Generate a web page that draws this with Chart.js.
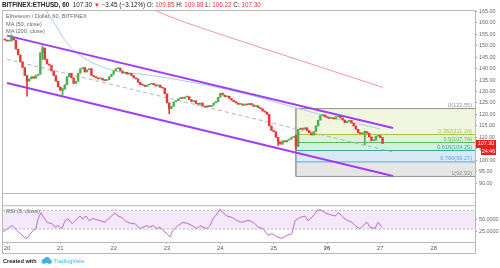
<!DOCTYPE html>
<html>
<head>
<meta charset="utf-8">
<script src="https://cdn.jsdelivr.net/npm/chart.js@4.4.1/dist/chart.umd.min.js"></script>
<style>
  html, body { margin: 0; padding: 0; background: #fff; }
  #wrap { position: relative; width: 500px; height: 268px; overflow: hidden; background: #fff; font-family: 'Liberation Sans', Arial, sans-serif; }
  #wrap canvas { position: absolute; left: 0; }
  .txt { position: absolute; white-space: nowrap; }
  .hdr { left: 2px; top: 0px; font-size: 6.3px; line-height: 9px; color: #222; }
  .red { color: #e53935; }
  .leg { left: 6px; font-size: 5.6px; line-height: 7px; color: #666; }
  .foot { left: 3px; top: 257px; font-size: 5.6px; line-height: 8px; color: #222; }
  .tv { color: #3ab4e9; }
</style>
</head>
<body>
<div id="wrap">
  <canvas id="precio" width="500" height="205" style="top:0"></canvas>
  <canvas id="rsi" width="500" height="68" style="top:200px"></canvas>
  <div class="txt hdr"><b>BITFINEX:ETHUSD, 60</b>&nbsp; 107.30 <span class="red">▼</span> −3.45 (−3.12%) O: <span class="red">109.85</span> H: <span class="red">109.88</span> L: <span class="red">106.22</span> C: <span class="red">107.30</span></div>
  <div class="txt leg" style="top:13px">Ethereum / Dollar, 60, BITFINEX</div>
  <div class="txt leg" style="top:21px">MA (50, close)</div>
  <div class="txt leg" style="top:28px">MA (200, close)</div>
  <div class="txt leg" style="top:208px">RSI (9, close)</div>
  <div class="txt foot"><b>Created with</b>
    <svg width="11" height="7" viewBox="0 0 11 7" style="vertical-align:-1px;margin-left:3px"><circle cx="3" cy="4.5" r="2.4" fill="#3ab4e9"/><circle cx="6" cy="3" r="3" fill="#3ab4e9"/><circle cx="8.6" cy="4.6" r="2.3" fill="#3ab4e9"/></svg>
    <span class="tv">TradingView</span></div>
</div>

<script>
// Datos: velas de 1 hora, hora 0 = comienzo del día 20
const dayLabels = ['20', '21', '22', '23', '24', '25', '26', '27', '28'];
const boldDay = '26';
const priceTicks = [90, 95, 100, 105, 110, 115, 120, 125, 130, 135, 140, 145, 150, 155, 160, 165];
const rsiTicks = [25, 50];

const firstHour = -1;
const firstOpen = 152.8;
const closes = [
  152.5, 152.0, 152.3, 153.5, 152.5, 148.5, 146.0, 143.0, 140.5, 137.0,
  134.5, 135.5, 136.5, 135.8, 137.0, 137.5, 147.0, 149.0, 144.0, 142.0,
  141.5, 139.0, 137.0, 134.5, 132.0, 130.5, 131.0, 133.0, 136.5, 138.0,
  136.0, 133.5, 134.5, 138.0, 140.0, 140.5, 138.5, 139.5, 140.0, 137.0,
  136.5, 136.0, 135.5, 135.8, 135.0, 134.8, 135.2, 136.5, 137.5, 139.0,
  140.0, 140.2, 139.0, 138.0, 138.4, 137.6, 138.0, 137.0, 136.0, 135.5,
  134.0, 133.0, 132.8, 132.2, 132.8, 133.2, 133.6, 133.0, 132.4, 132.8,
  131.8, 131.5, 129.0, 125.0, 122.5, 123.5, 125.5, 126.0, 126.8, 127.3,
  127.0, 127.6, 127.8, 126.5, 125.6, 126.0, 124.8, 124.4, 125.0, 123.6,
  123.2, 123.8, 123.4, 124.0, 125.0, 125.6, 127.5, 129.3, 128.5, 127.7,
  128.0, 127.0, 126.2, 125.6, 125.0, 124.4, 124.6, 124.0, 124.5, 124.2,
  124.8, 124.2, 123.5, 123.8, 123.0, 122.5, 121.5, 121.0, 120.0, 115.0,
  113.0, 112.5, 110.0, 108.0, 107.0, 108.5, 108.0, 108.8, 109.2, 110.0,
  110.5, 106.0, 113.5, 114.0, 113.5, 114.2, 113.0, 112.0, 111.0, 112.5,
  115.0, 117.5, 119.5, 119.8, 119.0, 118.6, 118.2, 118.5, 118.0, 119.0,
  119.5, 118.5, 117.6, 116.4, 117.0, 117.4, 116.2, 115.0, 113.5, 112.0,
  111.5, 112.0, 112.5, 111.8, 110.2, 108.5, 108.8, 110.5, 110.8, 109.85,
  107.3
];
// mechas visibles
const wickHours = [2, 9, 16, 25, 73, 122, 130, 161];
const wickLows  = [152.0, 128.0, 144.0, 128.5, 120.3, 106.5, 104.5, 106.7];
const wickHighs = [154.8, 137.0, 150.0, 131.5, 125.0, 110.0, 111.0, 112.8];

// canal descendente
const channelHours = [0, 173.7];
const channelUpper = [154.4, 114.1];
const channelMid   = [144.05, 103.6];
const channelLower = [133.7, 93.1];

// medias móviles
const ma50Hours  = [14.85, 21.6, 27, 32.85, 46.35, 64.35, 86.85, 109.35, 130.5, 149.85, 167.85];
const ma50Values = [169.6, 159.4, 151.1, 145.8, 139.6, 137.1, 133.4, 128.5, 122.7, 117.8, 113.7];
const ma200Hours  = [55.35, 73.35, 100.35, 127.35, 169.2];
const ma200Values = [170.5, 162.7, 153.6, 145.0, 131.8];

// retroceso de Fibonacci
const fibStartHour = 130;
const fibRatios = ['0', '0.382', '0.5', '0.618', '0.786', '1'];
const fibPrices = [122.55, 111.24, 107.74, 104.25, 99.27, 92.93];

// RSI (9)
const rsiHours = [
  -1.8, -0.9, 2.25, 3.6, 5.85, 8.1, 9, 10.35, 11.7, 13.05, 13.95, 15.3, 16.2, 18, 20.25,
  21.6, 22.95, 24.75, 26.1, 27.45, 29.25, 30.6, 32.85, 34.2, 35.55, 36.9, 38.7, 41.85, 44.1,
  46.35, 48.6, 49.95, 51.75, 53.1, 54.45, 56.25, 57.6, 59.85, 61.2, 63, 64.35, 65.7, 67.5,
  68.85, 70.2, 72, 73.35, 74.7, 76.95, 79.2, 81.45, 83.25, 85.5, 86.85, 88.2, 90, 91.35,
  92.7, 94.5, 95.85, 97.2, 99, 101.25, 103.5, 105.75, 108, 109.35, 111.6, 112.95, 115.2,
  117.45, 119.25, 121.5, 123.75, 126, 128.25, 129.6, 131.85, 134.1, 135.45, 137.25, 139.5,
  140.85, 143.1, 145.35, 147.6, 149.4, 151.2, 153.45, 155.25, 157.5, 158.85, 160.2, 162,
  163.35, 165.6, 166.95, 168.75
];
const rsiValues = [
  25, 27, 37.5, 31, 21, 11, 10, 18.5, 27, 31, 52, 65, 58, 44.5, 41.5,
  34, 37.5, 31, 48, 52, 41.5, 48, 58, 52, 58, 48, 52.7, 48, 44.5,
  55, 65, 58, 55, 48, 44.5, 41.5, 41.5, 31, 34, 37.5, 34, 37.5, 31,
  34, 27, 20, 13, 27, 37.5, 44.5, 41.5, 37.5, 31, 37.5, 34, 31, 37.5,
  52, 62.5, 73, 65, 58, 55, 48, 44.5, 48, 48, 41.5, 34, 31,
  16.5, 20, 13, 10, 16.5, 20, 48, 55, 58, 48, 55, 69,
  72, 65, 61, 58, 65, 55, 48, 44.5, 34, 31, 37.5, 44.5,
  34, 31, 44.5, 34
];
const rsiBand = [70, 30];

const lastPrice = 107.30;
const countdown = '24:46';

// ---------------------------------------------------------------
const UP = '#4caf50';
const DOWN = '#e53935';
const FRAME = '#b8b8b8';
const X_MIN = -1.8, X_MAX = 210.6;
const fibLineColors = ['#8f8f8f', '#a9c545', '#5cb860', '#3aa99b', '#5aaae6', '#8f8f8f'];
const fibFillColors = ['#f1f6e0', '#e0f2d6', '#d3f0e1', '#d9eaf6', '#e6e6e6'];

Chart.defaults.font.family = "'Liberation Sans', Arial, sans-serif";
Chart.defaults.animation = false;

const opens = [firstOpen].concat(closes.slice(0, -1));
const hours = closes.map((_, i) => firstHour + i);
const candleColors = closes.map((c, i) => (c >= opens[i] ? UP : DOWN));
const bodies = closes.map((c, i) => ({ x: hours[i], y: [opens[i], c] }));
const wicks = wickHours.map((h, k) => ({ x: h, y: [wickLows[k], wickHighs[k]] }));
const wickColors = wickHours.map(h => candleColors[h - firstHour]);

const pts = (xs, ys) => xs.map((x, i) => ({ x: x, y: ys[i] }));
const flat = (x0, x1, v) => [{ x: x0, y: v }, { x: x1, y: v }];

function lineDs(data, color, extra) {
    return Object.assign({
        type: 'line', data: data, borderColor: color, borderWidth: 1,
        pointRadius: 0, fill: false, order: 5
    }, extra || {});
}

function fondoBlanco(chart) {
    const c = chart.ctx;
    c.save();
    c.fillStyle = '#fff';
    c.fillRect(0, 0, chart.width, chart.height);
    c.restore();
}

function ejeX(display) {
    return {
        type: 'linear', min: X_MIN, max: X_MAX, position: 'bottom', display: display, offset: false,
        grid: { offset: false, drawOnChartArea: false, drawTicks: true, tickLength: 2, color: FRAME },
        border: { display: false },
        afterBuildTicks: s => { s.ticks = dayLabels.map((d, i) => ({ value: i * 24 })); },
        afterFit: s => { s.height = 11; },
        ticks: {
            padding: 1, maxRotation: 0, autoSkip: false, color: '#555',
            callback: v => dayLabels[Math.round(v / 24)],
            font: ctx => ({ size: 5.8, weight: ctx.tick && dayLabels[Math.round(ctx.tick.value / 24)] === boldDay ? 'bold' : 'normal' })
        }
    };
}

function ejeY(min, max, ticks, decimals) {
    return {
        type: 'linear', position: 'right', min: min, max: max, beginAtZero: false,
        grid: { drawOnChartArea: false, drawTicks: true, tickLength: 2, color: '#999' },
        border: { display: false },
        afterBuildTicks: s => { s.ticks = ticks.map(v => ({ value: v })); },
        afterFit: s => { s.width = 25; },
        ticks: { padding: 2, color: '#666', font: { size: 5.4 }, callback: v => v.toFixed(decimals) }
    };
}

// ---------------- panel de precio ----------------
const dsPrecio = [];
fibPrices.forEach((p, i) => {
    dsPrecio.push(lineDs(flat(fibStartHour, X_MAX, p), fibLineColors[i], {
        fill: i === 0 ? false : '-1',
        backgroundColor: i === 0 ? 'transparent' : fibFillColors[i - 1],
        order: 30
    }));
});
dsPrecio.push(lineDs([{ x: fibStartHour, y: fibPrices[0] }, { x: fibStartHour, y: fibPrices[fibPrices.length - 1] }],
    '#a0a0a0', { order: 29 }));
dsPrecio.push(lineDs(pts(channelHours, channelMid), '#b4b4b4', { borderDash: [4, 3], order: 8 }));
dsPrecio.push(lineDs(pts(ma50Hours, ma50Values), '#a9d0e6', { cubicInterpolationMode: 'monotone', order: 7 }));
dsPrecio.push(lineDs(pts(ma200Hours, ma200Values), '#f29a9a', { cubicInterpolationMode: 'monotone', order: 7 }));
dsPrecio.push(lineDs(pts(channelHours, channelUpper), '#a23cf5', { borderWidth: 2, order: 4 }));
dsPrecio.push(lineDs(pts(channelHours, channelLower), '#a23cf5', { borderWidth: 2, order: 4 }));
dsPrecio.push({ type: 'bar', data: wicks, backgroundColor: wickColors, barThickness: 1, grouped: false, order: 2 });
dsPrecio.push({ type: 'bar', data: bodies, backgroundColor: candleColors, barThickness: 1.8, minBarLength: 1, grouped: false, order: 1 });

const decorPrecio = {
    id: 'decorPrecio',
    beforeDraw: fondoBlanco,
    afterDatasetsDraw(chart) {
        const c = chart.ctx, y = chart.scales.y, a = chart.chartArea;
        c.save();
        c.font = "5.6px 'Liberation Sans', Arial";
        c.textAlign = 'right';
        c.textBaseline = 'bottom';
        fibPrices.forEach((p, i) => {
            c.fillStyle = fibLineColors[i];
            c.fillText(fibRatios[i] + '(' + p.toFixed(2) + ')', a.right - 3, y.getPixelForValue(p) - 0.5);
        });
        c.restore();
    },
    afterDraw(chart) {
        const c = chart.ctx, a = chart.chartArea, y = chart.scales.y;
        c.save();
        c.strokeStyle = FRAME;
        c.lineWidth = 1;
        c.beginPath();
        c.moveTo(2.5, chart.height); c.lineTo(2.5, a.top + 0.5);
        c.lineTo(a.right + 0.5, a.top + 0.5); c.lineTo(a.right + 0.5, chart.height);
        c.moveTo(2.5, a.bottom + 0.5); c.lineTo(a.right + 0.5, a.bottom + 0.5);
        c.stroke();

        // etiqueta del último precio
        const py = Math.round(y.getPixelForValue(lastPrice));
        c.fillStyle = '#f01d1d';
        c.fillRect(a.right + 1, py - 4, 20, 8);
        c.fillRect(a.right + 6, py + 4, 15, 7);
        c.fillStyle = '#fff';
        c.font = "5.4px 'Liberation Sans', Arial";
        c.textAlign = 'center';
        c.textBaseline = 'middle';
        c.fillText(lastPrice.toFixed(2), a.right + 11, py);
        c.fillText(countdown, a.right + 13.5, py + 7.5);
        c.restore();
    }
};

new Chart(document.getElementById('precio'), {
    type: 'bar',
    data: { datasets: dsPrecio },
    plugins: [decorPrecio],
    options: {
        responsive: false,
        devicePixelRatio: 1,
        layout: { padding: { left: 3, top: 10, right: 0, bottom: 1 } },
        plugins: { legend: { display: false }, tooltip: { enabled: false } },
        scales: { x: ejeX(false), y: ejeY(85.7, 165.6, priceTicks, 2) }
    }
});

// ---------------- panel RSI ----------------
const dsRsi = [
    lineDs(flat(X_MIN, X_MAX, rsiBand[0]), '#b9b9b9', { borderDash: [2, 2], order: 30 }),
    lineDs(flat(X_MIN, X_MAX, rsiBand[1]), '#b9b9b9', { borderDash: [2, 2], fill: '-1', backgroundColor: '#f3e9fb', order: 30 }),
    lineDs(pts(rsiHours, rsiValues), '#bd6ada', { order: 3 })
];

const decorRsi = {
    id: 'decorRsi',
    beforeDraw: fondoBlanco,
    afterDraw(chart) {
        const c = chart.ctx, a = chart.chartArea;
        c.save();
        c.strokeStyle = FRAME;
        c.lineWidth = 1;
        c.beginPath();
        c.moveTo(2.5, a.top + 0.5); c.lineTo(a.right + 0.5, a.top + 0.5);
        c.moveTo(2.5, 0); c.lineTo(2.5, 53.5); c.lineTo(a.right + 0.5, 53.5); c.lineTo(a.right + 0.5, 0);
        c.moveTo(2.5, a.bottom + 0.5); c.lineTo(a.right + 0.5, a.bottom + 0.5);
        c.stroke();
        c.restore();
    }
};

new Chart(document.getElementById('rsi'), {
    type: 'line',
    data: { datasets: dsRsi },
    plugins: [decorRsi],
    options: {
        responsive: false,
        devicePixelRatio: 1,
        layout: { padding: { left: 3, top: 4, right: 0, bottom: 15 } },
        plugins: { legend: { display: false }, tooltip: { enabled: false } },
        scales: { x: ejeX(true), y: ejeY(2.1, 81.2, rsiTicks, 4) }
    }
});
</script>
</body>
</html>
